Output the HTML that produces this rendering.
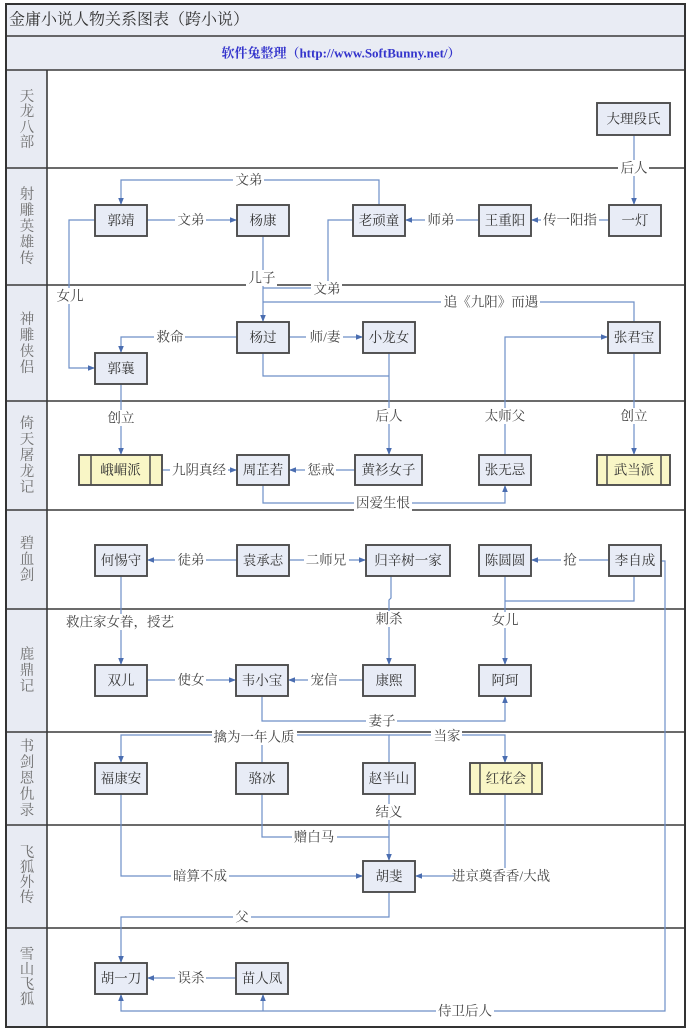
<!DOCTYPE html>
<html><head><meta charset="utf-8"><style>
html,body{margin:0;padding:0;background:#fff;}
svg{display:block;}
text{font-family:"Liberation Serif","Noto Serif CJK SC",serif;}
.n{font-size:13.5px;fill:#333;text-anchor:middle;dominant-baseline:central;}
.l{font-size:13.5px;fill:#444;text-anchor:middle;dominant-baseline:central;}
.ln{font-size:14.5px;fill:#707070;text-anchor:middle;dominant-baseline:central;}
.c{fill:none;stroke:#6d8fc7;stroke-width:1.2;}
.b{fill:#e8ecf6;stroke:#4d4d4d;stroke-width:1.9;}
.y{fill:#f9f6c6;stroke:#4d4d4d;stroke-width:1.9;}
.lb{fill:#fff;}
</style></head><body>
<svg width="695" height="1034" viewBox="0 0 695 1034" xmlns="http://www.w3.org/2000/svg">
<defs>
<marker id="a" viewBox="0 0 10 10" refX="10" refY="5" markerWidth="7" markerHeight="7" markerUnits="userSpaceOnUse" orient="auto"><path d="M0,1 L10,5 L0,9z" fill="#4a6db0"/></marker>
</defs>
<!-- backgrounds -->
<rect x="6" y="4" width="679" height="66" fill="#e9ecf4"/>
<rect x="6" y="70" width="41" height="957" fill="#e8ebf3"/>
<!-- grid lines -->
<g stroke="#3a3a3a" stroke-width="1.6">
<line x1="6" y1="36" x2="685" y2="36"/>
<line x1="6" y1="70" x2="685" y2="70"/>
<line x1="6" y1="168" x2="685" y2="168"/>
<line x1="6" y1="285" x2="685" y2="285"/>
<line x1="6" y1="401" x2="685" y2="401"/>
<line x1="6" y1="510" x2="685" y2="510"/>
<line x1="6" y1="609" x2="685" y2="609"/>
<line x1="6" y1="732" x2="685" y2="732"/>
<line x1="6" y1="825" x2="685" y2="825"/>
<line x1="6" y1="928" x2="685" y2="928"/>
<line x1="47" y1="70" x2="47" y2="1027"/>
</g>
<rect x="6" y="4" width="679" height="1023" fill="none" stroke="#333" stroke-width="2"/>
<!-- titles -->
<text x="9" y="20" style="font-size:16px;fill:#333;dominant-baseline:central;">金庸小说人物关系图表（跨小说）</text>
<text x="341" y="53" style="font-size:13px;fill:#3434cc;font-weight:bold;text-anchor:middle;dominant-baseline:central;">软件兔整理（http://www.SoftBunny.net/）</text>
<!-- lane labels -->
<text class="ln"><tspan x="27" y="97">天</tspan><tspan x="27" y="112">龙</tspan><tspan x="27" y="128">八</tspan><tspan x="27" y="143">部</tspan></text>
<text class="ln"><tspan x="27" y="195">射</tspan><tspan x="27" y="211">雕</tspan><tspan x="27" y="227">英</tspan><tspan x="27" y="243">雄</tspan><tspan x="27" y="259">传</tspan></text>
<text class="ln"><tspan x="27" y="320">神</tspan><tspan x="27" y="336">雕</tspan><tspan x="27" y="352">侠</tspan><tspan x="27" y="368">侣</tspan></text>
<text class="ln"><tspan x="27" y="424">倚</tspan><tspan x="27" y="440">天</tspan><tspan x="27" y="456">屠</tspan><tspan x="27" y="472">龙</tspan><tspan x="27" y="488">记</tspan></text>
<text class="ln"><tspan x="27" y="544">碧</tspan><tspan x="27" y="560">血</tspan><tspan x="27" y="576">剑</tspan></text>
<text class="ln"><tspan x="27" y="655">鹿</tspan><tspan x="27" y="671">鼎</tspan><tspan x="27" y="687">记</tspan></text>
<text class="ln"><tspan x="27" y="747">书</tspan><tspan x="27" y="763">剑</tspan><tspan x="27" y="779">恩</tspan><tspan x="27" y="795">仇</tspan><tspan x="27" y="811">录</tspan></text>
<text class="ln"><tspan x="27" y="853">飞</tspan><tspan x="27" y="868">狐</tspan><tspan x="27" y="883">外</tspan><tspan x="27" y="898">传</tspan></text>
<text class="ln"><tspan x="27" y="955">雪</tspan><tspan x="27" y="970">山</tspan><tspan x="27" y="985">飞</tspan><tspan x="27" y="1000">狐</tspan></text>
<!-- connectors -->
<g class="c">
<polyline points="634,135 634,205" marker-end="url(#a)"/>
<polyline points="379,205 379,180 121,180 121,205" marker-end="url(#a)"/>
<polyline points="147,220 237,220" marker-end="url(#a)"/>
<polyline points="479,220 405,220" marker-end="url(#a)"/>
<polyline points="609,220 531,220" marker-end="url(#a)"/>
<polyline points="95,220 69,220 69,368 95,368" marker-end="url(#a)"/>
<polyline points="263,236 263,322" marker-end="url(#a)"/>
<polyline points="353,220 328,220 328,288 263,288"/>
<polyline points="634,322 634,302 263,302"/>
<polyline points="237,337 121,337 121,353" marker-end="url(#a)"/>
<polyline points="289,337 363,337" marker-end="url(#a)"/>
<polyline points="263,353 263,376 389,376"/>
<polyline points="389,353 389,455" marker-end="url(#a)"/>
<polyline points="505,455 505,337 608,337" marker-end="url(#a)"/>
<polyline points="121,384 121,455" marker-end="url(#a)"/>
<polyline points="634,353 634,455" marker-end="url(#a)"/>
<polyline points="162,470 237,470" marker-end="url(#a)"/>
<polyline points="355,470 289,470" marker-end="url(#a)"/>
<polyline points="263,485 263,503 505,503 505,485" marker-end="url(#a)"/>
<polyline points="237,560 147,560" marker-end="url(#a)"/>
<polyline points="289,560 366,560" marker-end="url(#a)"/>
<polyline points="609,560 531,560" marker-end="url(#a)"/>
<polyline points="121,576 121,665" marker-end="url(#a)"/>
<polyline points="391,576 391,598 389,600 389,665" marker-end="url(#a)"/>
<polyline points="505,576 505,665" marker-end="url(#a)"/>
<polyline points="634,576 634,601 505,601"/>
<polyline points="661,561 665,561 665,1011 121,1011 121,994" marker-end="url(#a)"/>
<polyline points="263,1011 263,994" marker-end="url(#a)"/>
<polyline points="147,680 236,680" marker-end="url(#a)"/>
<polyline points="363,680 288,680" marker-end="url(#a)"/>
<polyline points="262,696 262,721 505,721 505,696" marker-end="url(#a)"/>
<polyline points="389,763 389,735 121,735 121,763" marker-end="url(#a)"/>
<polyline points="262,763 262,735"/>
<polyline points="389,735 505,735 505,763" marker-end="url(#a)"/>
<polyline points="262,794 262,837 389,837"/>
<polyline points="389,794 389,861" marker-end="url(#a)"/>
<polyline points="121,794 121,876 363,876" marker-end="url(#a)"/>
<polyline points="505,794 505,876 415,876" marker-end="url(#a)"/>
<polyline points="389,892 389,917 121,917 121,963" marker-end="url(#a)"/>
<polyline points="236,978 147,978" marker-end="url(#a)"/>
</g>
<!-- label backgrounds -->
<g class="lb">
<rect x="618" y="160" width="31" height="16"/>
<rect x="233" y="172" width="31" height="16"/>
<rect x="175" y="212" width="31" height="16"/>
<rect x="425" y="212" width="31" height="16"/>
<rect x="541" y="212" width="58" height="16"/>
<rect x="54" y="288" width="31" height="16"/>
<rect x="246" y="270" width="31" height="16"/>
<rect x="311" y="281" width="31" height="16"/>
<rect x="441" y="294" width="99" height="16"/>
<rect x="154" y="329" width="31" height="16"/>
<rect x="306" y="329" width="37" height="16"/>
<rect x="373" y="408" width="31" height="16"/>
<rect x="482" y="408" width="45" height="16"/>
<rect x="105" y="410" width="31" height="16"/>
<rect x="618" y="408" width="31" height="16"/>
<rect x="170" y="462" width="58" height="16"/>
<rect x="305" y="462" width="31" height="16"/>
<rect x="354" y="495" width="58" height="16"/>
<rect x="175" y="552" width="31" height="16"/>
<rect x="304" y="552" width="45" height="16"/>
<rect x="561" y="552" width="18" height="16"/>
<rect x="64" y="614" width="112" height="16"/>
<rect x="373" y="611" width="31" height="16"/>
<rect x="489" y="612" width="31" height="16"/>
<rect x="436" y="1003" width="58" height="16"/>
<rect x="175" y="672" width="31" height="16"/>
<rect x="308" y="672" width="31" height="16"/>
<rect x="366" y="713" width="31" height="16"/>
<rect x="212" y="729" width="85" height="16"/>
<rect x="431" y="728" width="31" height="16"/>
<rect x="292" y="829" width="45" height="16"/>
<rect x="373" y="804" width="31" height="16"/>
<rect x="171" y="868" width="58" height="16"/>
<rect x="454" y="868" width="94" height="16"/>
<rect x="233" y="909" width="18" height="16"/>
<rect x="175" y="970" width="31" height="16"/>
</g>
<!-- labels -->
<g>
<text class="l" x="634" y="168">后人</text>
<text class="l" x="249" y="180">文弟</text>
<text class="l" x="191" y="220">文弟</text>
<text class="l" x="441" y="220">师弟</text>
<text class="l" x="570" y="220">传一阳指</text>
<text class="l" x="70" y="296">女儿</text>
<text class="l" x="262" y="278">儿子</text>
<text class="l" x="327" y="289">文弟</text>
<text class="l" x="491" y="302">追《九阳》而遇</text>
<text class="l" x="170" y="337">救命</text>
<text class="l" x="325" y="337">师/妻</text>
<text class="l" x="389" y="416">后人</text>
<text class="l" x="505" y="416">太师父</text>
<text class="l" x="121" y="418">创立</text>
<text class="l" x="634" y="416">创立</text>
<text class="l" x="199" y="470">九阴真经</text>
<text class="l" x="321" y="470">惩戒</text>
<text class="l" x="383" y="503">因爱生恨</text>
<text class="l" x="191" y="560">徒弟</text>
<text class="l" x="326" y="560">二师兄</text>
<text class="l" x="570" y="560">抢</text>
<text class="l" x="120" y="622">救庄家女眷，授艺</text>
<text class="l" x="389" y="619">刺杀</text>
<text class="l" x="505" y="620">女儿</text>
<text class="l" x="465" y="1011">侍卫后人</text>
<text class="l" x="191" y="680">使女</text>
<text class="l" x="324" y="680">宠信</text>
<text class="l" x="382" y="721">妻子</text>
<text class="l" x="254" y="737">擒为一年人质</text>
<text class="l" x="447" y="736">当家</text>
<text class="l" x="314" y="837">赠白马</text>
<text class="l" x="389" y="812">结义</text>
<text class="l" x="200" y="876">暗算不成</text>
<text class="l" x="501" y="876">进京奠香香/大战</text>
<text class="l" x="242" y="917">父</text>
<text class="l" x="191" y="978">误杀</text>
</g>
<!-- nodes -->
<g>
<rect class="b" x="597" y="103" width="73" height="32"/><text class="n" x="633.5" y="119">大理段氏</text>
<rect class="b" x="95" y="205" width="52" height="31"/><text class="n" x="121" y="220.5">郭靖</text>
<rect class="b" x="237" y="205" width="52" height="31"/><text class="n" x="263" y="220.5">杨康</text>
<rect class="b" x="353" y="205" width="52" height="31"/><text class="n" x="379" y="220.5">老顽童</text>
<rect class="b" x="479" y="205" width="52" height="31"/><text class="n" x="505" y="220.5">王重阳</text>
<rect class="b" x="609" y="205" width="52" height="31"/><text class="n" x="635" y="220.5">一灯</text>
<rect class="b" x="237" y="322" width="52" height="31"/><text class="n" x="263" y="337.5">杨过</text>
<rect class="b" x="363" y="322" width="52" height="31"/><text class="n" x="389" y="337.5">小龙女</text>
<rect class="b" x="608" y="322" width="52" height="31"/><text class="n" x="634" y="337.5">张君宝</text>
<rect class="b" x="95" y="353" width="52" height="31"/><text class="n" x="121" y="368.5">郭襄</text>
<rect class="y" x="79" y="455" width="83" height="30"/><line x1="91" y1="455" x2="91" y2="485" stroke="#4d4d4d" stroke-width="1.5"/><line x1="150" y1="455" x2="150" y2="485" stroke="#4d4d4d" stroke-width="1.5"/><text class="n" x="120.5" y="470">峨嵋派</text>
<rect class="b" x="237" y="455" width="52" height="30"/><text class="n" x="263" y="470">周芷若</text>
<rect class="b" x="355" y="455" width="67" height="30"/><text class="n" x="388.5" y="470">黄衫女子</text>
<rect class="b" x="479" y="455" width="52" height="30"/><text class="n" x="505" y="470">张无忌</text>
<rect class="y" x="597" y="455" width="73" height="30"/><line x1="607" y1="455" x2="607" y2="485" stroke="#4d4d4d" stroke-width="1.5"/><line x1="661" y1="455" x2="661" y2="485" stroke="#4d4d4d" stroke-width="1.5"/><text class="n" x="634" y="470">武当派</text>
<rect class="b" x="95" y="545" width="52" height="31"/><text class="n" x="121" y="560.5">何惕守</text>
<rect class="b" x="237" y="545" width="52" height="31"/><text class="n" x="263" y="560.5">袁承志</text>
<rect class="b" x="366" y="545" width="84" height="31"/><text class="n" x="408" y="560.5">归辛树一家</text>
<rect class="b" x="479" y="545" width="52" height="31"/><text class="n" x="505" y="560.5">陈圆圆</text>
<rect class="b" x="609" y="545" width="52" height="31"/><text class="n" x="635" y="560.5">李自成</text>
<rect class="b" x="95" y="665" width="52" height="31"/><text class="n" x="121" y="680.5">双儿</text>
<rect class="b" x="236" y="665" width="52" height="31"/><text class="n" x="262" y="680.5">韦小宝</text>
<rect class="b" x="363" y="665" width="52" height="31"/><text class="n" x="389" y="680.5">康熙</text>
<rect class="b" x="479" y="665" width="52" height="31"/><text class="n" x="505" y="680.5">阿珂</text>
<rect class="b" x="95" y="763" width="52" height="31"/><text class="n" x="121" y="778.5">福康安</text>
<rect class="b" x="236" y="763" width="52" height="31"/><text class="n" x="262" y="778.5">骆冰</text>
<rect class="b" x="363" y="763" width="52" height="31"/><text class="n" x="389" y="778.5">赵半山</text>
<rect class="y" x="470" y="763" width="72" height="31"/><line x1="480" y1="763" x2="480" y2="794" stroke="#4d4d4d" stroke-width="1.5"/><line x1="532" y1="763" x2="532" y2="794" stroke="#4d4d4d" stroke-width="1.5"/><text class="n" x="506" y="778.5">红花会</text>
<rect class="b" x="363" y="861" width="52" height="31"/><text class="n" x="389" y="876.5">胡斐</text>
<rect class="b" x="95" y="963" width="52" height="31"/><text class="n" x="121" y="978.5">胡一刀</text>
<rect class="b" x="236" y="963" width="52" height="31"/><text class="n" x="262" y="978.5">苗人凤</text>
</g>
</svg>
</body></html>
